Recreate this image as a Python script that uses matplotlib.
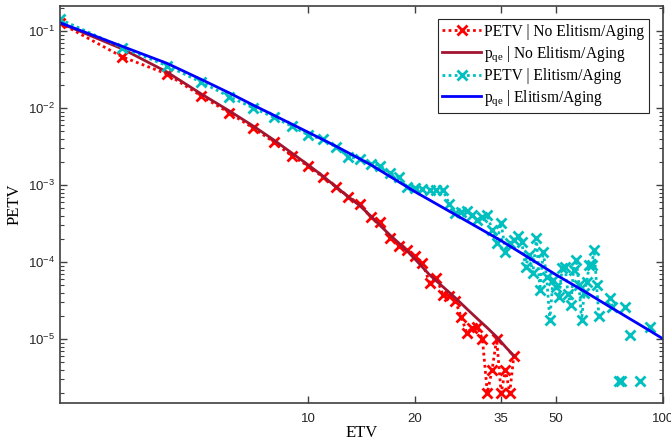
import numpy as np
import matplotlib

matplotlib.use('Agg')
import matplotlib.pyplot as plt
from matplotlib.ticker import FixedLocator, FixedFormatter, LogLocator, NullLocator

plt.rcParams['font.family'] = ['Liberation Sans', 'DejaVu Sans']
plt.rcParams['mathtext.default'] = 'regular'
plt.rcParams['axes.unicode_minus'] = False

nan = np.nan

# PETV, no elitism / aging (ETV = 2 .. 38)
etv_no = np.arange(2, 39)
petv_no = [0.128, 0.0464, 0.0279, 0.01445, 0.00869, 0.00555, 0.00365, 0.0024,
           0.00178, 0.00128, 0.00095, 0.000705, 0.000571, 0.000388, 0.000334,
           0.000207, 0.000163, 0.000145, 0.000121, 9.8e-5, 5.4e-5, 6.25e-5,
           3.76e-5, 3.65e-5, 3.14e-5, 1.95e-5, 1.21e-5, 1.4e-5, 1.43e-5, 1.0e-5,
           2e-6, 4e-6, 1e-5, 2e-6, 4e-6, 2e-6, 6e-6]

# p_qe model, no elitism / aging
pqe_no_x = [2, 3, 4, 5, 6, 7, 8, 9, 10, 11, 12, 13, 14, 15, 16, 17, 18, 19, 20,
            22, 24, 26, 28, 30, 32, 34, 36, 38]
pqe_no = [0.128, 0.0589, 0.0296, 0.01535, 0.00923, 0.00589, 0.00388, 0.00262,
          0.00184, 0.00132, 0.00095, 0.000705, 0.000539, 0.0004, 0.000296,
          0.000226, 0.000178, 0.00014, 0.00011, 6.84e-5, 4.78e-5, 3.44e-5,
          2.48e-5, 1.84e-5, 1.4e-5, 1.07e-5, 7.94e-6, 6.07e-6]

# PETV, elitism / aging (ETV = 2 .. 92, nan = no occurrence)
etv_el = np.arange(2, 93)
petv_el = [0.143, 0.0612, 0.0357, 0.0218, 0.01415, 0.0101, 0.00764, 0.00584,
           0.0045, 0.00393, 0.00312, 0.00235, 0.00218, 0.00191, 0.00179,
           0.00143, 0.00128, 0.00096, 0.000914, 0.0009, 0.000869, 0.000869,
           0.00086, 0.000571, 0.000437, 0.00045, 0.000468, 0.000411, 0.000354,
           0.00039, 0.000411, 0.000263, 0.000178, 0.000324, 0.000136, 0.000178,
           0.000195, 0.00022, 0.000184, 8.7e-5, 0.000124, 7.26e-5, 0.000207,
           4.37e-5, 0.000136, 6.44e-5, 1.78e-5, 5.89e-5, 4.78e-5, 3.54e-5,
           8.43e-5, 8.7e-5, 3.88e-5, 2.79e-5, 7.94e-5, 0.000107, 5.07e-5,
           1.78e-5, 4.0e-5, 5.55e-5, 9.2e-5, 9.2e-5, 0.000145, 5.07e-5, 2.01e-5,
           nan, nan, nan, nan, 3.44e-5, 2.63e-5, nan, nan, 2.87e-6, 2.87e-6,
           nan, 2.6e-5, nan, nan, 1.14e-5, nan, nan, nan, nan, 2.87e-6,
           nan, nan, nan, nan, nan, 1.45e-5]

# p_qe model, elitism / aging
pqe_el_x = [2, 3, 4, 5, 6, 7, 8, 10, 12, 15, 20, 25, 30, 35, 40, 50, 60, 70,
            80, 90, 100]
pqe_el = [0.129, 0.0635, 0.0384, 0.0237, 0.0158, 0.011, 0.00813, 0.00488,
          0.0032, 0.00185, 0.000824, 0.000459, 0.000285, 0.00019, 0.00013,
          6.84e-5, 4.19e-5, 2.72e-5, 1.88e-5, 1.36e-5, 1.01e-5]

x_ticks = [10, 20, 35, 50, 100]

fig = plt.figure(figsize=(6.71, 4.43), dpi=100)
ax = fig.add_axes([0.0894, 0.0903, 0.8986, 0.8962])

dot = (0, (1, 1.2))
ax.plot(etv_no, petv_no, color='#FF0000', ls=dot, lw=2, marker='x', ms=7, mew=2,
        label=r'PETV | No Elitism/Aging')
ax.plot(pqe_no_x, pqe_no, color='#A2142F', lw=2,
        label=r'$\mathregular{p_{qe}}$ | No Elitism/Aging')
ax.plot(etv_el, petv_el, color='#00BFBF', ls=dot, lw=2, marker='x', ms=7, mew=2,
        label=r'PETV | Elitism/Aging')
ax.plot(pqe_el_x, pqe_el, color='#0000FF', lw=2,
        label=r'$\mathregular{p_{qe}}$ | Elitism/Aging')

ax.set_xscale('log')
ax.set_yscale('log')
ax.set_xlim(2, 100)
ax.set_ylim(1.48e-6, 0.213)

ax.xaxis.set_major_locator(FixedLocator(x_ticks))
ax.xaxis.set_major_formatter(FixedFormatter([str(t) for t in x_ticks]))
ax.xaxis.set_minor_locator(NullLocator())
ax.yaxis.set_major_locator(LogLocator(base=10, numticks=10))
ax.yaxis.set_minor_locator(LogLocator(base=10, subs=np.arange(2, 10), numticks=10))

ax.tick_params(which='both', direction='in', top=True, right=True,
               color='#404040', labelcolor='#262626', labelsize=9.5)
ax.tick_params(which='major', length=5, width=1)
ax.tick_params(axis='x', which='major', pad=7)
ax.tick_params(which='minor', length=3, width=0.8)
for s in ax.spines.values():
    s.set_color('#404040')
    s.set_linewidth(1.2)

ax.set_xlabel('ETV', family='Liberation Serif', fontsize=12, labelpad=0)
ax.set_ylabel('PETV', family='Liberation Serif', fontsize=12, labelpad=4)

leg = ax.legend(loc='upper right', bbox_to_anchor=(0.977, 0.967), borderaxespad=0,
                prop={'family': 'Liberation Serif', 'size': 11.2}, fancybox=False,
                framealpha=1, edgecolor='#262626', handlelength=2.5,
                handletextpad=0.2, labelspacing=0.28, borderpad=0.3)
leg.get_frame().set_linewidth(0.8)

fig.savefig('out.png', dpi=100)
